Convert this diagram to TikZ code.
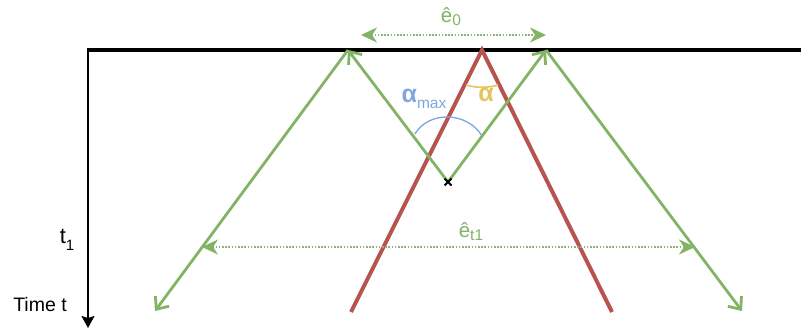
\documentclass[tikz,border=0pt]{standalone}
\usepackage{fontspec}
\setmainfont{Liberation Sans}
\usetikzlibrary{arrows.meta}
\definecolor{gr}{HTML}{82B366}
\definecolor{rd}{HTML}{B85450}
\definecolor{bl}{HTML}{7EA6E0}
\definecolor{yl}{HTML}{E6C35C}
\definecolor{dgr}{HTML}{8FAF80}
\newcommand{\fs}[1]{\fontsize{#1}{#1}\selectfont}
\newcommand{\lowsub}[3]{\raisebox{-#1pt}{\fs{#2}#3}}
\begin{document}
\begin{tikzpicture}[x=1pt,y=-1pt,
  ray/.style={draw=gr,line width=2.8pt,-{Straight Barb[length=10pt,width=17pt,line width=2.8pt]}},
  wave/.style={draw=rd,line width=4pt},
  dim/.style={draw=dgr,line width=1.6pt,dash pattern=on 1.6pt off 1.6pt,{Stealth[length=16pt,width=15pt,inset=5pt,color=gr]}-{Stealth[length=16pt,width=15pt,inset=5pt,color=gr]}},
  lbl/.style={inner sep=0pt,anchor=center}]
\useasboundingbox (0,0) rectangle (801,331);
% coordinates
\coordinate (src) at (448,182);
\coordinate (A) at (348,50);
\coordinate (B) at (546,50);
\coordinate (AL) at (155,311);
\coordinate (BR) at (742,311);
\coordinate (R) at (482,50);
\coordinate (RL) at (351,312);
\coordinate (RR) at (612,312);
\coordinate (ax0) at (88,48);
\coordinate (ax1) at (88,328);
\coordinate (e0l) at (361,35);
\coordinate (e0r) at (546,35);
\coordinate (e1l) at (202,247);
\coordinate (e1r) at (695,247);
% surface
\draw[line width=4pt] (88,50) -- (801,50);
% time axis
\draw[line width=1.5pt,-{Stealth[length=12pt,width=13pt,inset=2pt]}] (ax0) -- (ax1);
\node[lbl,font=\fs{22}] (t1) at (67,240) {t\lowsub{7}{15}{1}};
\node[lbl,font=\fs{19.5}] (tt) at (40,305) {Time t};
% red wavefront
\draw[wave] (RL) -- (R) -- (RR);
% green rays
\draw[ray] (src) -- (A);
\draw[ray] (A) -- (AL);
\draw[ray] (src) -- (B);
\draw[ray] (B) -- (BR);
% dotted dimensions
\draw[dim] (e0l) -- (e0r);
\node[lbl,text=gr,font=\fs{20.5}] (le0) at (451,17) {ê\lowsub{3}{15.5}{0}};
\draw[dim] (e1l) -- (e1r);
\node[lbl,text=gr,font=\fs{20.5}] (le1) at (471,232) {ê\lowsub{3}{15.5}{t1}};
% angles
\draw[bl,line width=1.3pt] (415,134) .. controls (428,111) and (467,111) .. (482,136);
\draw[yl,line width=1.6pt] (466,85) .. controls (476,88) and (488,88) .. (498,85);
\node[lbl,text=bl,font=\fs{25}\bfseries] (amax) at (424,99) {α\lowsub{6}{15.5}{\normalfont max}};
\node[lbl,text=yl,font=\fs{25}\bfseries] (al) at (486,95) {α};
% source mark
\draw[line width=2pt] ([shift={(-3.5,-3.5)}]src) -- ([shift={(3.5,3.5)}]src)
  ([shift={(-3.5,3.5)}]src) -- ([shift={(3.5,-3.5)}]src);
\end{tikzpicture}
\end{document}
